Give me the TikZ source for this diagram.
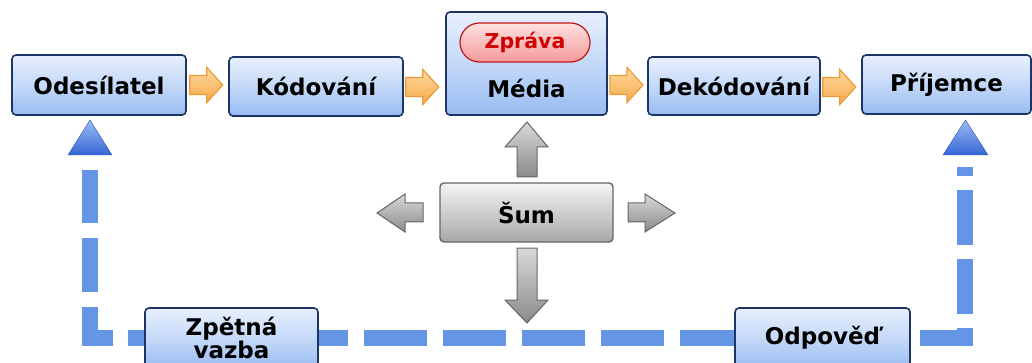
\documentclass[tikz,border=0pt]{standalone}
\usepackage{fontspec}
\setmainfont{DejaVu Sans}
\usetikzlibrary{calc,shapes.misc}
\definecolor{boxtop}{HTML}{E8F0FD}
\definecolor{boxbot}{HTML}{98BCF2}
\definecolor{boxline}{HTML}{1C3566}
\definecolor{graytop}{HTML}{F4F4F4}
\definecolor{graybot}{HTML}{A8A8A8}
\definecolor{grayline}{HTML}{666666}
\definecolor{arrtop}{HTML}{D9D9D9}
\definecolor{arrbot}{HTML}{8A8A8A}
\definecolor{pinktop}{HTML}{FFE0E0}
\definecolor{pinkbot}{HTML}{F49A9A}
\definecolor{pinkline}{HTML}{C01818}
\definecolor{zred}{HTML}{D00000}
\definecolor{ortop}{HTML}{FDD9A0}
\definecolor{orbot}{HTML}{F7A94A}
\definecolor{orline}{HTML}{EE9A35}
\definecolor{fbblue}{HTML}{6596E6}
\definecolor{tritop}{HTML}{9DBBF3}
\definecolor{tribot}{HTML}{3466D6}
\tikzset{
  mainfont/.style={font=\bfseries\fontsize{23}{21}\selectfont},
  bbox/.style={draw=boxline, line width=1.6pt, rounded corners=4pt,
    top color=boxtop, bottom color=boxbot, middle color=boxtop!55!boxbot,
    mainfont, text=black, align=center, inner sep=0pt},
  gbox/.style={draw=grayline, line width=1.4pt, rounded corners=4pt,
    top color=graytop, bottom color=graybot,
    mainfont, text=black, inner sep=0pt},
  pill/.style={rounded rectangle, draw=pinkline, line width=1.2pt,
    top color=pinktop, bottom color=pinkbot, text=zred,
    font=\bfseries\fontsize{20.5}{22}\selectfont, inner sep=0pt},
  orarr/.style={draw=orline, line width=1.2pt, line join=miter, top color=ortop, bottom color=orbot},
  grarr/.style={draw=grayline, line width=1pt, top color=arrtop, bottom color=arrbot},
  tri/.style={top color=tritop, bottom color=tribot, draw=tribot!80!black, line width=0.4pt},
  fb/.style={draw=fbblue, line width=16pt, line cap=butt, line join=miter},
  pics/orangearrow/.style={code={
    \path[orarr] (0,-9.5) -- (17,-9.5) -- (17,-17.5) -- (33,0) -- (17,17.5) -- (17,9.5) -- (0,9.5) -- cycle;}}
}
\begin{document}
\begin{tikzpicture}[x=1pt,y=-1pt]
\useasboundingbox (0,0) rectangle (1032,363);
\clip (0,0) rectangle (1032,363);

\coordinate (lcorner) at (90,338);
\coordinate (rcorner) at (965,338);
\coordinate (ltop) at (90,170);
\coordinate (rtop) at (965,167);

% nodes
\node[bbox, minimum width=174, minimum height=60] (ode) at (99,85) {Odesílatel};
\node[bbox, minimum width=174, minimum height=59] (kod) at (316,86.5) {Kódování};
\node[bbox, minimum width=161, minimum height=103] (med) at (526.5,63.5) {};
\node[mainfont, inner sep=0pt] (medt) at (526.5,88) {Média};
\node[pill, minimum width=130, minimum height=39] (zpr) at (525,42.5) {Zpráva};
\node[bbox, minimum width=172, minimum height=58] (dek) at (734,86) {Dekódování};
\node[bbox, minimum width=169, minimum height=59] (pri) at (946.5,84.5) {Příjemce};
\node[gbox, minimum width=173, minimum height=59] (sum) at (526.5,212.5) {Šum};

% feedback line segments
\draw[fb, dash pattern=on 54pt off 15pt, dash phase=37pt] (145,338) -- (lcorner) -- (ltop);
\draw[fb, dash pattern=on 63pt off 16pt, dash phase=33pt] (318,338) -- (735,338);
\draw[fb, dash pattern=on 55pt off 14pt, dash phase=59pt] (910,338) -- (rcorner) -- (rtop);

\node[bbox, minimum width=173, minimum height=60] (zpv) at (231.5,338) {Zpětná\\vazba};
\node[bbox, minimum width=175, minimum height=60] (odp) at (822.5,338) {Odpověď};

% triangles
\path[tri] (68,155) -- (90,120) -- (112,155) -- cycle;
\path[tri] (943,155) -- (965.5,120) -- (988,155) -- cycle;

% orange arrows
\pic at ([xshift=3pt]ode.east) {orangearrow};
\pic at ([xshift=2pt,yshift=-0.5pt]kod.east) {orangearrow};
\pic at (610,85) {orangearrow};
\pic at ([xshift=2pt,yshift=-1pt]dek.east) {orangearrow};

% gray arrows around Šum
\path[grarr] (517,177) -- (517,147) -- (505,147) -- (527,122) -- (548,147) -- (537,147) -- (537,177) -- cycle;
\path[grarr] (517,248) -- (517,300) -- (505,300) -- (527,323) -- (548,300) -- (537,300) -- (537,248) -- cycle;
\path[grarr] (423,203) -- (405,203) -- (405,194) -- (377,213) -- (405,232) -- (405,222) -- (423,222) -- cycle;
\path[grarr] (628,203) -- (645,203) -- (645,194) -- (675,213) -- (645,232) -- (645,222) -- (628,222) -- cycle;
\end{tikzpicture}
\end{document}
